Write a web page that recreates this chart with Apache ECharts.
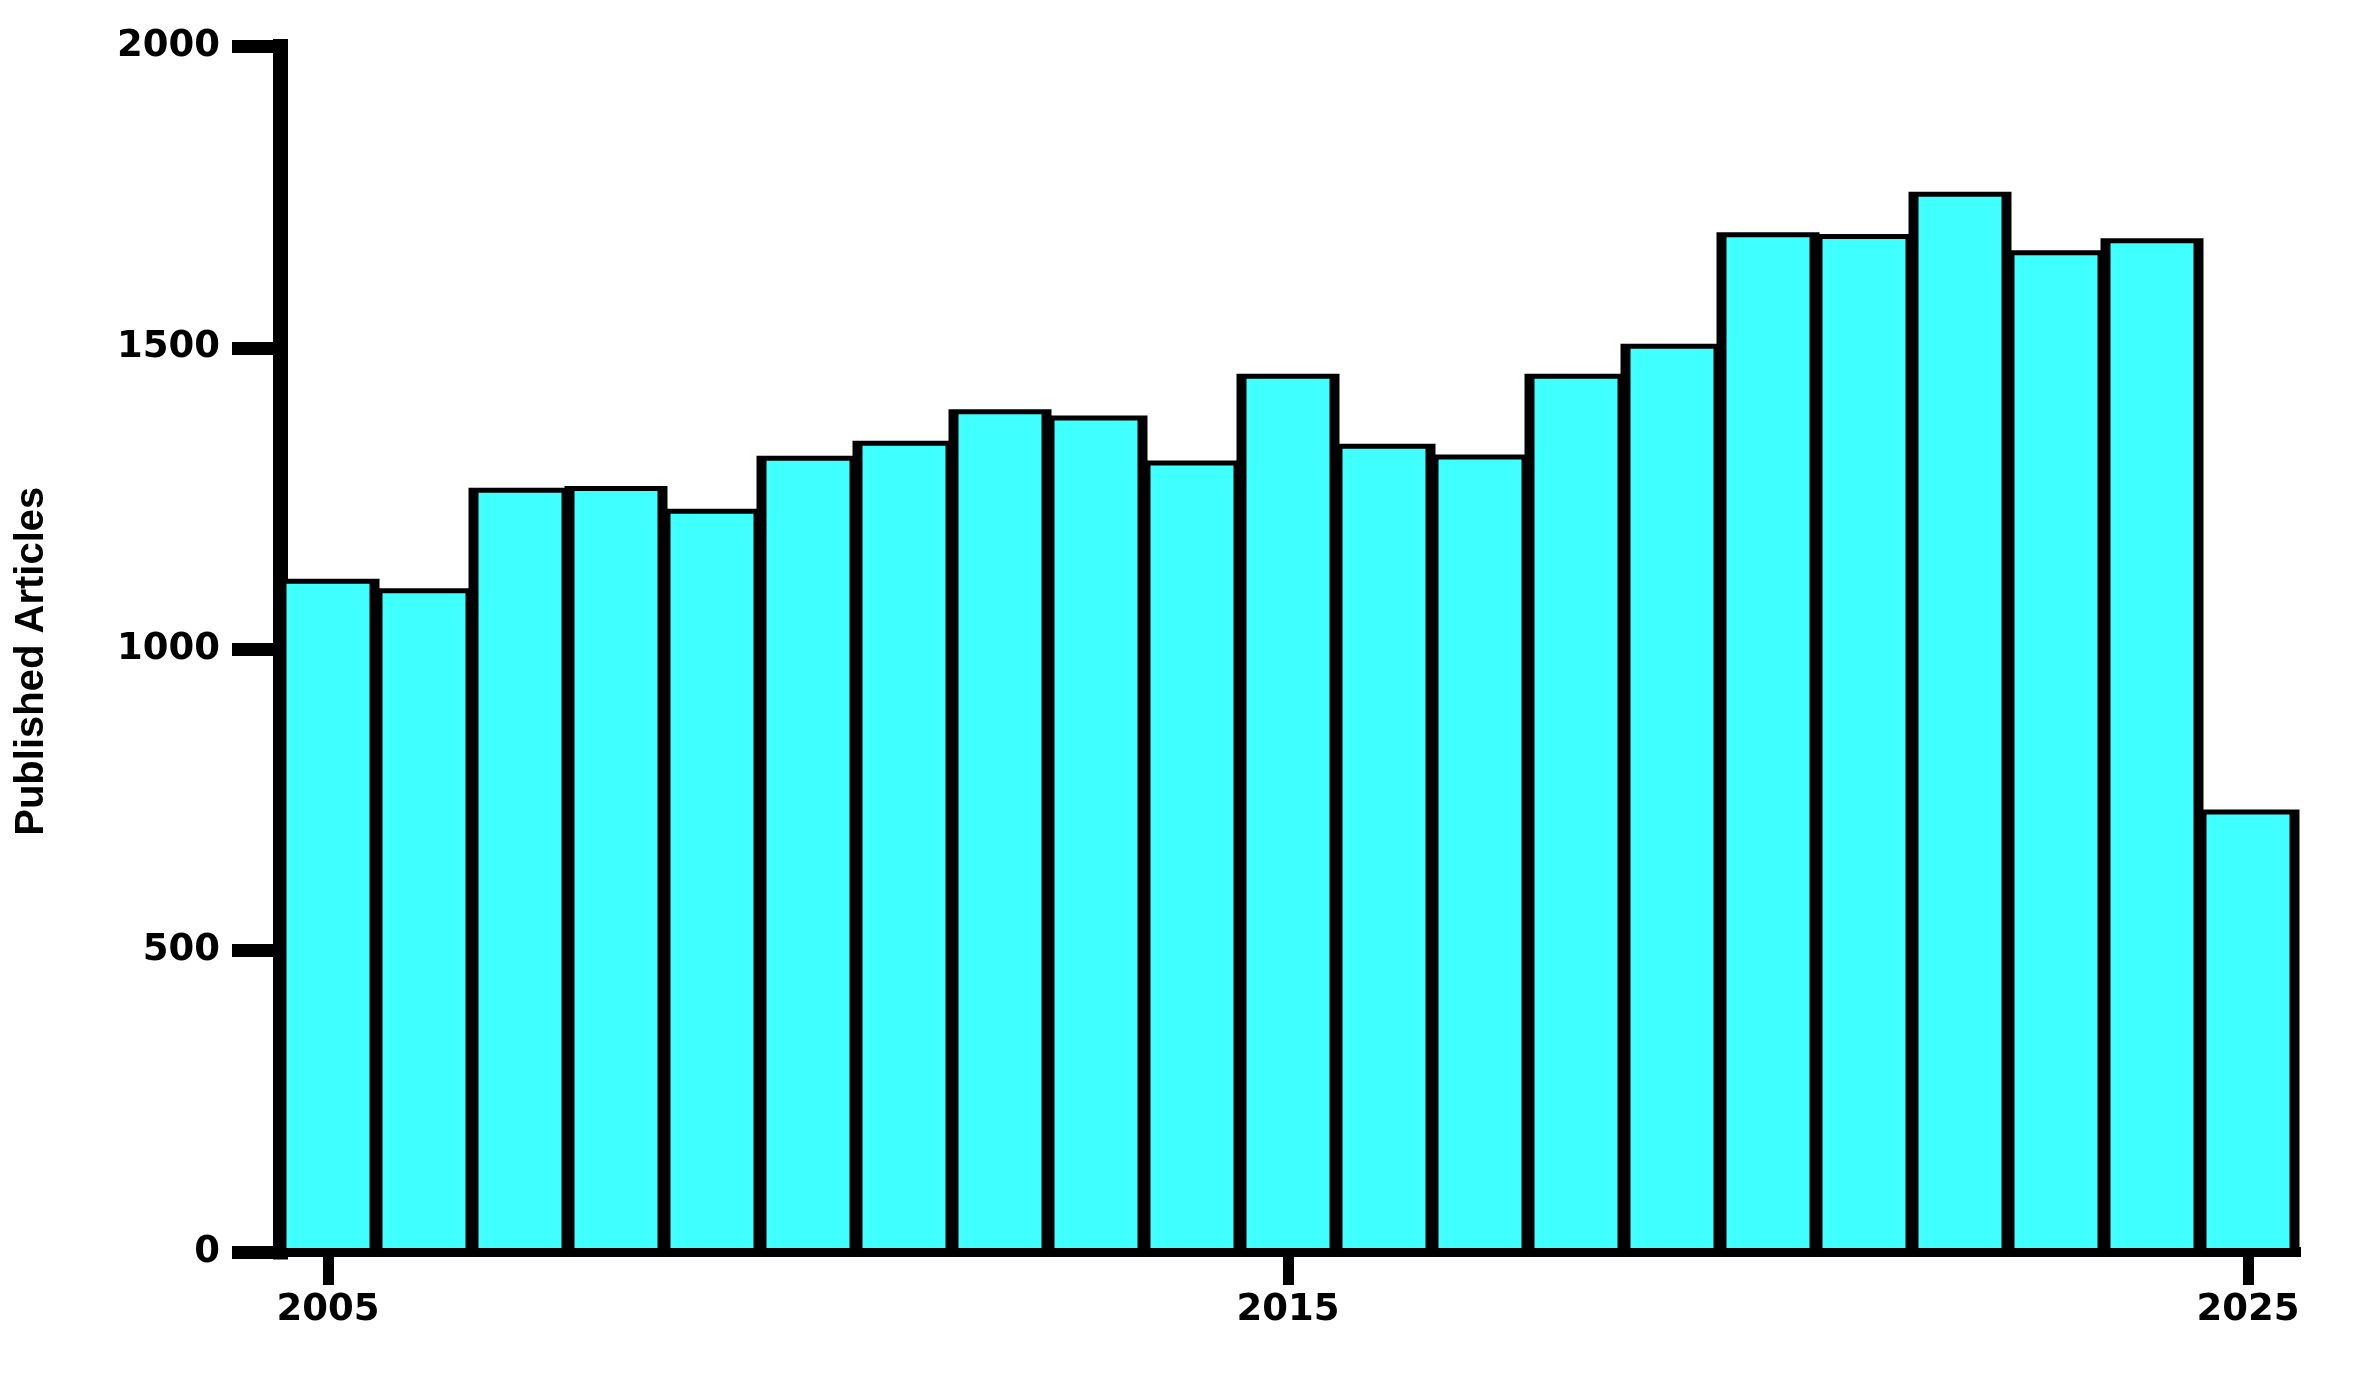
<!DOCTYPE html>
<html>
<head>
<meta charset="utf-8">
<title>Published Articles</title>
<script src="https://cdn.jsdelivr.net/npm/echarts@6/dist/echarts.min.js"></script>
<style>
  html, body { margin: 0; padding: 0; background: #fff; }
  #chart { width: 2365px; height: 1376px; }
</style>
</head>
<body>
<div id="chart"></div>
<script>
// years and article counts
var years = ['2005', '2006', '2007', '2008', '2009', '2010', '2011', '2012', '2013', '2014', '2015',
             '2016', '2017', '2018', '2019', '2020', '2021', '2022', '2023', '2024', '2025'];
var articles = [1117, 1101, 1268, 1271, 1233, 1321, 1346, 1398, 1388, 1313, 1457,
                1341, 1323, 1457, 1507, 1692, 1689, 1759, 1662, 1682, 734];
var yTicks = [0, 500, 1000, 1500, 2000];
var yearStep = 10; // only 2005, 2015, 2025 get a tick and label

(function(){
	var tickFont = 'DejaVu Sans';

	// bar = black outline box with cyan fill inside, sized from the axis band
	function renderBar(params, api) {
		var top = api.coord([api.value(0), api.value(1)]);
		var base = api.coord([api.value(0), 0]);
		var band = api.size([1, 0])[0];
		var h = base[1] - top[1];
		return {
			type: 'group',
			children: [
				{
					type: 'rect',
					shape: { x: top[0] - band / 2 - 3.5, y: top[1], width: band + 7, height: h },
					style: { fill: '#000' }
				},
				{
					type: 'rect',
					shape: { x: top[0] - band / 2 + 6.5, y: top[1] + 5, width: band - 13, height: h - 9 },
					style: { fill: '#40ffff' }
				}
			]
		};
	}

	var option = {
		backgroundColor: '#fff',
		animation: false,
		grid: {
			left: 280,
			right: 69,
			top: 46.5,
			bottom: 124
		},
		xAxis: {
			type: 'category',
			data: years,
			boundaryGap: true,
			axisLine: { lineStyle: { color: '#000', width: 10, cap: 'square' } },
			axisTick: {
				show: true,
				alignWithLabel: true,
				interval: yearStep - 1,
				length: 33,
				lineStyle: { color: '#000', width: 11 }
			},
			axisLabel: {
				interval: yearStep - 1,
				margin: 40,
				color: '#000',
				fontFamily: tickFont,
				fontWeight: 'bold',
				fontSize: 37
			},
			splitLine: { show: false }
		},
		yAxis: {
			type: 'value',
			min: yTicks[0],
			max: yTicks[yTicks.length - 1],
			interval: 500,
			name: 'Published Articles',
			nameLocation: 'middle',
			nameRotate: 90,
			nameGap: 228,
			nameTextStyle: {
				color: '#000',
				fontFamily: 'Liberation Sans',
				fontWeight: 'bold',
				fontSize: 40,
				padding: [0, 24, 0, 0]
			},
			axisLine: { show: true, lineStyle: { color: '#000', width: 15, cap: 'square' } },
			axisTick: { show: true, length: 48, lineStyle: { color: '#000', width: 13 } },
			axisLabel: {
				margin: 60,
				color: '#000',
				fontFamily: tickFont,
				fontWeight: 'bold',
				fontSize: 37,
				formatter: function(v){ return String(v); }
			},
			splitLine: { show: false }
		},
		series: [{
			type: 'custom',
			renderItem: renderBar,
			encode: { x: 0, y: 1 },
			data: years.map(function(y, i){ return [i, articles[i]]; })
		}]
	};

	var myChart = echarts.init(document.getElementById('chart'));
	myChart.setOption(option);
})();
</script>
</body>
</html>
